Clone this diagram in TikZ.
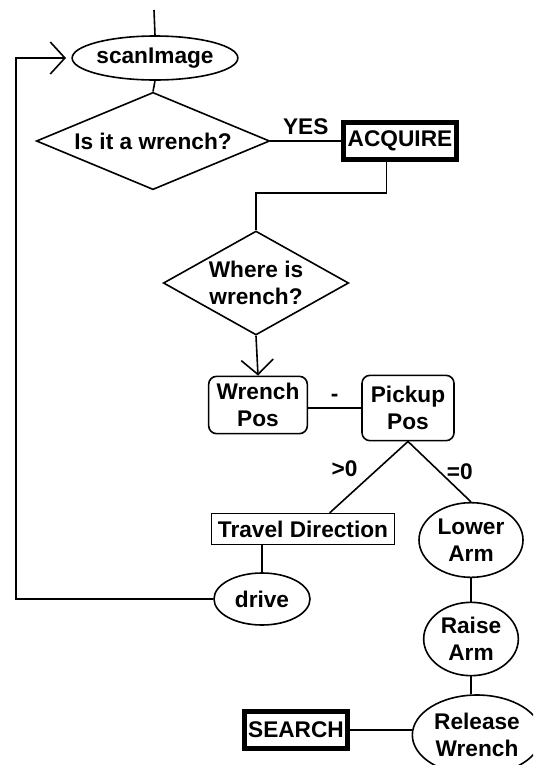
\documentclass[tikz,border=0pt]{standalone}
\usepackage{fontspec}
\setmainfont{Liberation Sans}
\usetikzlibrary{shapes.geometric,arrows.meta}

\begin{document}
\begin{tikzpicture}[x=0.75pt,y=-0.75pt,
    font=\fontsize{17}{20.5}\selectfont\bfseries,
    every node/.style ={inner sep=0pt},
    oval/.style ={ellipse, draw, line width=1.2pt, align=center},
    decision/.style ={diamond, draw, line width=1.2pt, align=center},
    roundbox/.style ={rectangle, rounded corners=6pt, draw, line width=1.2pt, align=center},
    plainbox/.style ={rectangle, draw, line width=1.2pt},
    terminal/.style ={rectangle, draw, line width=3.5pt},
    link/.style ={line width=1.2pt},
    chevron/.style ={line width=1.2pt, -{Straight Barb[length=11pt,width=24pt]}}]
   \clip (0,0) rectangle (533,765);

   \node[oval, minimum width=117pt, minimum height=33pt] (scan) at (155,58) {scanImage};
   \node[decision, aspect=2.39, minimum width=175pt, minimum height=73pt] (wrench) at (153,141) {Is it a wrench?};
   \node[terminal, minimum width=85pt, minimum height=28pt] (acquire) at (400,141) {ACQUIRE};
   \node[decision, aspect=1.8, minimum width=139pt, minimum height=78pt] (where) at (256,283) {Where is\\wrench?};
   \node[roundbox, minimum width=74pt, minimum height=43pt] (wpos) at (258,405) {Wrench\\Pos};
   \node[roundbox, minimum width=69pt, minimum height=49pt] (ppos) at (408,408) {Pickup\\Pos};
   \node[plainbox, minimum width=137pt, minimum height=23pt] (travel) at (303,529) {Travel Direction};
   \node[oval, minimum width=72pt, minimum height=39pt] (drive) at (262,599) {drive};
   \node[oval, minimum width=78pt, minimum height=56pt] (lower) at (471,540) {Lower\\Arm};
   \node[oval, minimum width=71pt, minimum height=55pt] (raise) at (471,639) {Raise\\Arm};
   \node[oval, minimum width=97pt, minimum height=60pt] (release) at (477,735) {Release\\Wrench};
   \node[terminal, minimum width=77pt, minimum height=28pt] (search) at (296,730) {SEARCH};

   \coordinate (entry) at (154,10);
   \coordinate (loopcorner) at (16,58);

   \draw[link] (entry) to (scan.north);
   \draw[link] (scan.south) to (wrench.north);
   \draw[link] (wrench.east) to node[above=4pt] {YES} (acquire.west);
   \draw[link] ([xshift=-10pt]acquire.south) -- ++(0,31) -| (where.north);
   \draw[chevron] (where.south) to (wpos.north);
   \draw[link] (ppos.west -| wpos.east) to node[above=4pt] {-} (ppos.west);
   \draw[link] (ppos.south) to node[above left, xshift=-8pt] {>0} ([xshift=20pt]travel.north);
   \draw[link] (ppos.south) to node[right=5pt] {=0} (lower.north);
   \draw[link] (drive.north |- travel.south) to (drive.north);
   \draw[link] (lower.south) to (raise.north);
   \draw[link] (raise.south) to (raise.south |- release.north);
   \draw[link] (search.east) to (search.east -| release.west);

   % back round to the scan
   \draw[chevron] (drive.west) -| (loopcorner) -- ([xshift=-4pt]scan.west);
 \end{tikzpicture}
\end{document}
